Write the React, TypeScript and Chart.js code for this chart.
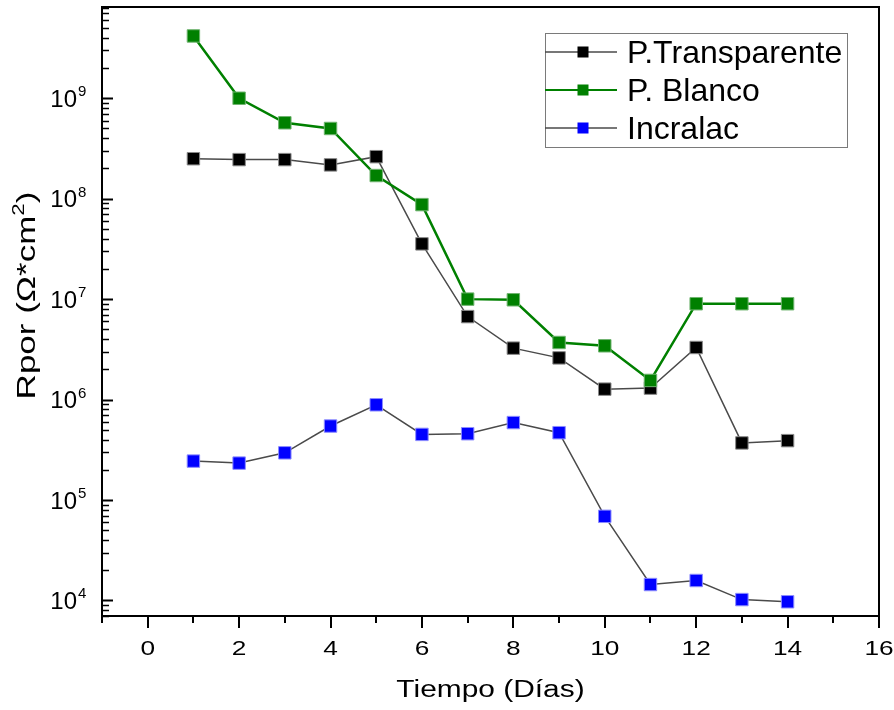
import React, { useEffect, useRef } from "react";
import { Chart, registerables } from "chart.js";

Chart.register(...registerables);

// ---- data ----
const days = [1, 2, 3, 4, 5, 6, 7, 8, 9, 10, 11, 12, 13, 14];
const transparente = [2.5e8, 2.45e8, 2.45e8, 2.17e8, 2.62e8, 3.55e7, 6.7e6, 3.25e6, 2.6e6, 1.27e6, 1.3e6, 3.3e6, 3.7e5, 3.9e5];
const blanco = [4.17e9, 1.0e9, 5.7e8, 5.0e8, 1.7e8, 8.73e7, 1.0e7, 9.85e6, 3.7e6, 3.43e6, 1.55e6, 9.0e6, 9.0e6, 9.0e6];
const incralac = [2.44e5, 2.33e5, 2.95e5, 5.45e5, 8.87e5, 4.5e5, 4.57e5, 5.9e5, 4.68e5, 6.88e4, 1.44e4, 1.58e4, 1.02e4, 9.7e3];
const seriesNames = ["P.Transparente", "P. Blanco", "Incralac"];
const xMajorTicks = [0, 2, 4, 6, 8, 10, 12, 14, 16];
const xMinorTicks = [-1, 1, 3, 5, 7, 9, 11, 13, 15];
const yDecades = [4, 5, 6, 7, 8, 9];
const xTitle = "Tiempo (Días)";
const yTitleMain = "Rpor (Ω*cm";
const yTitleSup = "2";
const yTitleEnd = ")";

const FONT = "'Liberation Sans', Arial, sans-serif";

const markerFill = ["#000000", "#008000", "#0000ff"];
const markerEdge = ["#8a8a8a", "#6fb46f", "#8c8cff"];
const lineColors = ["#4a4a4a", "#008000", "#4a4a4a"];
const lineWidths = [1.5, 2.5, 1.5];

const originPlugin = {
  id: "originAxes",
  afterDraw(chart: any) {
    const ctx: CanvasRenderingContext2D = chart.ctx;
    const area = chart.chartArea;
    const xs = chart.scales.x;
    const ys = chart.scales.y;
    ctx.save();
    ctx.strokeStyle = "#000";
    ctx.fillStyle = "#000";

    // frame
    ctx.lineWidth = 2;
    ctx.strokeRect(area.left, area.top, area.right - area.left, area.bottom - area.top);

    // y ticks (inward)
    const yMin = ys.min, yMax = ys.max;
    for (let k = 3; k <= 9; k++) {
      for (let m = 1; m <= 9; m++) {
        const v = m * Math.pow(10, k);
        if (v < yMin || v > yMax) continue;
        const py = Math.round(ys.getPixelForValue(v)) + 0.5;
        const len = m === 1 ? 11 : 7;
        ctx.lineWidth = m === 1 ? 2 : 1.5;
        ctx.beginPath();
        ctx.moveTo(area.left, py);
        ctx.lineTo(area.left + len, py);
        ctx.stroke();
      }
    }
    // x ticks (outward)
    ctx.lineWidth = 2;
    xMajorTicks.forEach((v) => {
      const px = Math.round(xs.getPixelForValue(v));
      ctx.beginPath();
      ctx.moveTo(px, area.bottom);
      ctx.lineTo(px, area.bottom + 12);
      ctx.stroke();
    });
    xMinorTicks.forEach((v) => {
      const px = Math.round(xs.getPixelForValue(v));
      ctx.beginPath();
      ctx.moveTo(px, area.bottom);
      ctx.lineTo(px, area.bottom + 7);
      ctx.stroke();
    });

    // x tick labels
    ctx.textBaseline = "alphabetic";
    ctx.textAlign = "center";
    ctx.font = `21px ${FONT}`;
    xMajorTicks.forEach((v) => {
      const px = xs.getPixelForValue(v);
      ctx.save();
      ctx.translate(px, area.bottom + 39);
      ctx.scale(1.25, 1);
      ctx.fillText(String(v), 0, 0);
      ctx.restore();
    });

    // y tick labels 10^n
    yDecades.forEach((d) => {
      const py = ys.getPixelForValue(Math.pow(10, d));
      ctx.font = `24px ${FONT}`;
      ctx.textAlign = "right";
      ctx.fillText("10", area.left - 25, py + 8.5);
      ctx.font = `15px ${FONT}`;
      ctx.textAlign = "left";
      ctx.fillText(String(d), area.left - 24, py - 2);
    });

    // x title
    ctx.save();
    ctx.font = `23px ${FONT}`;
    ctx.textAlign = "center";
    ctx.translate((area.left + area.right) / 2, area.bottom + 81);
    ctx.scale(1.3, 1);
    ctx.fillText(xTitle, 0, 0);
    ctx.restore();

    // y title (rotated)
    ctx.save();
    ctx.translate(area.left - 67, (area.top + area.bottom) / 2 - 16);
    ctx.rotate(-Math.PI / 2);
    ctx.scale(1.4, 1);
    ctx.textAlign = "left";
    ctx.font = `25px ${FONT}`;
    const w1 = ctx.measureText(yTitleMain).width;
    const w3 = ctx.measureText(yTitleEnd).width;
    ctx.font = `16px ${FONT}`;
    const w2 = ctx.measureText(yTitleSup).width;
    const total = w1 + w2 + w3;
    let cx = -total / 2;
    ctx.font = `25px ${FONT}`;
    ctx.fillText(yTitleMain, cx, 0);
    cx += w1;
    ctx.font = `16px ${FONT}`;
    ctx.fillText(yTitleSup, cx, -11);
    cx += w2;
    ctx.font = `25px ${FONT}`;
    ctx.fillText(yTitleEnd, cx, 0);
    ctx.restore();

    // legend
    const lx = area.right - 334;
    const ly = area.top + 26;
    const lw = 302;
    const lh = 114;
    ctx.lineWidth = 1;
    ctx.strokeStyle = "#7a7a7a";
    ctx.strokeRect(lx + 0.5, ly + 0.5, lw, lh);
    const rowY = [ly + 19, ly + 57, ly + 95];
    seriesNames.forEach((name, i) => {
      const y = rowY[i];
      ctx.strokeStyle = lineColors[i];
      ctx.lineWidth = i === 1 ? 2 : 1.3;
      ctx.beginPath();
      ctx.moveTo(lx, y);
      ctx.lineTo(lx + 72, y);
      ctx.stroke();
      ctx.fillStyle = markerFill[i];
      ctx.fillRect(lx + 38 - 5.5, y - 5.5, 11, 11);
      ctx.fillStyle = "#000";
      ctx.font = `32px ${FONT}`;
      ctx.textAlign = "left";
      ctx.fillText(name, lx + 82, y + 11);
    });

    ctx.restore();
  },
};

export default function App() {
  const canvasRef = useRef<HTMLCanvasElement | null>(null);

  useEffect(() => {
    if (!canvasRef.current) return;
    const seriesValues = [transparente, blanco, incralac];
    const orders = [1, 0, 2];
    const datasets = seriesValues.map((vals, i) => ({
      label: seriesNames[i],
      data: days.map((d, j) => ({ x: d, y: vals[j] })),
      borderColor: lineColors[i],
      borderWidth: lineWidths[i],
      backgroundColor: markerFill[i],
      pointStyle: "rect" as const,
      pointRadius: 8.8,
      pointBackgroundColor: markerFill[i],
      pointBorderColor: markerEdge[i],
      pointBorderWidth: 1,
      tension: 0,
      fill: false,
      order: orders[i],
    }));

    const chart = new Chart(canvasRef.current, {
      type: "line",
      data: { datasets },
      options: {
        animation: false,
        responsive: false,
        devicePixelRatio: 1,
        layout: { autoPadding: false, padding: { top: 7, right: 15, left: 0, bottom: 0 } },
        plugins: { legend: { display: false }, tooltip: { enabled: false } },
        scales: {
          x: {
            type: "linear",
            min: -1,
            max: 16,
            grid: { display: false, drawTicks: false },
            border: { display: false },
            ticks: { display: false },
            afterFit: (s: any) => {
              s.height = 94;
            },
          },
          y: {
            type: "logarithmic",
            min: 7000,
            max: 8.1e9,
            grid: { display: false, drawTicks: false },
            border: { display: false },
            ticks: { display: false },
            afterFit: (s: any) => {
              s.width = 102;
            },
          },
        },
      },
      plugins: [originPlugin],
    });
    return () => chart.destroy();
  }, []);

  return (
    <div style={{ position: "fixed", left: 0, top: 0, width: 894, height: 710, background: "#fff" }}>
      <canvas ref={canvasRef} width={894} height={710} style={{ width: 894, height: 710, display: "block" }} />
    </div>
  );
}
